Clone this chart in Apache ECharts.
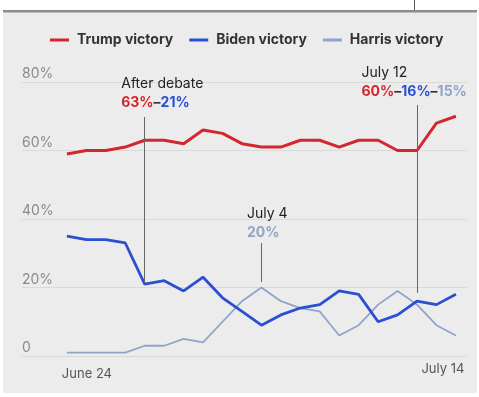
<!DOCTYPE html>
<html>
<head>
<meta charset="utf-8">
<script src="https://cdn.jsdelivr.net/npm/echarts@6/dist/echarts.min.js"></script>
<style>
  html, body { margin: 0; padding: 0; background: #fff; }
  #main { width: 479px; height: 397px; }
</style>
</head>
<body>
<div id="main"></div>
<script>
// days June 24 .. July 14
var days = ['June 24', 'June 25', 'June 26', 'June 27', 'June 28', 'June 29', 'June 30',
  'July 1', 'July 2', 'July 3', 'July 4', 'July 5', 'July 6', 'July 7', 'July 8',
  'July 9', 'July 10', 'July 11', 'July 12', 'July 13', 'July 14'];
var trump  = [59, 60, 60, 61, 63, 63, 62, 66, 65, 62, 61, 61, 63, 63, 61, 63, 63, 60, 60, 68, 70];
var biden  = [35, 34, 34, 33, 21, 22, 19, 23, 17, 13, 9, 12, 14, 15, 19, 18, 10, 12, 16, 15, 18];
var harris = [1, 1, 1, 1, 3, 3, 5, 4, 10, 16, 20, 16, 14, 13, 6, 9, 15, 19, 15, 9, 6];
var yTicks = [0, 20, 40, 60, 80];
var xTicks = [0, 20];

var RED = '#d3262f', BLUE = '#2b4fd3', LIGHT = '#8fa5c8';
var FONT = 'Inter';

function pairs(arr) {
  return arr.map(function (v, i) { return [i, v]; });
}

var chart = echarts.init(document.getElementById('main'));

var option = {
  backgroundColor: '#fff',
  animation: false,
  textStyle: { fontFamily: FONT },
  graphic: [
    { type: 'rect', z: -10, shape: { x: 3, y: 10, width: 474, height: 383 }, style: { fill: '#ececec' } },
    { type: 'rect', z: -9, shape: { x: 3, y: 10, width: 474, height: 2.5 }, style: { fill: '#8c8c8c' } },
    { type: 'line', z: -9, shape: { x1: 414.5, y1: 0, x2: 414.5, y2: 10 }, style: { stroke: '#555', lineWidth: 1 } }
  ],
  legend: {
    left: 50,
    top: 33,
    padding: 0,
    icon: 'rect',
    itemWidth: 19,
    itemHeight: 3,
    itemGap: 16,
    textStyle: { fontFamily: FONT, fontSize: 14, fontWeight: 'bold', color: '#333', padding: [0, 0, 0, 3] },
    data: ['Trump victory', 'Biden victory', 'Harris victory']
  },
  grid: { left: 22, right: 12, top: 82, bottom: 41 },
  xAxis: {
    type: 'value',
    min: -2.31,
    max: 20.57,
    axisLine: { show: false },
    axisTick: { show: false },
    splitLine: { show: false },
    axisLabel: {
      customValues: xTicks,
      margin: 7,
      fontFamily: FONT,
      fontSize: 13,
      color: '#555',
      formatter: function (v) {
        return v === 0 ? '{l|' + days[0] + '}' : '{r|' + days[days.length - 1] + '}';
      },
      rich: {
        l: { fontFamily: FONT, fontSize: 13, color: '#555', padding: [5, 0, 0, 40] },
        r: { fontFamily: FONT, fontSize: 13, color: '#555', padding: [0, 26, 0, 0] }
      }
    }
  },
  yAxis: {
    type: 'value',
    min: yTicks[0],
    max: yTicks[yTicks.length - 1],
    interval: 20,
    axisLine: { show: false },
    axisTick: { show: false },
    splitLine: { lineStyle: { color: '#d9d9d9', width: 1 } },
    axisLabel: {
      inside: true,
      margin: 0,
      verticalAlign: 'bottom',
      padding: [0, 0, 1, 0],
      fontFamily: FONT,
      fontSize: 14,
      color: '#8a8a8a',
      formatter: function (v) { return v === 0 ? '0' : v + '%'; }
    }
  },
  series: [
    {
      name: 'Trump victory',
      type: 'line',
      data: pairs(trump),
      symbol: 'none',
      color: RED,
      lineStyle: { width: 3, color: RED },
      z: 4,
      markLine: {
        silent: true, symbol: ['none', 'none'], label: { show: false },
        lineStyle: { color: '#666', width: 1, type: 'solid' },
        data: [
          [{ coord: [4, 69.8] }, { coord: [4, 21.3] }],
          [{ coord: [18, 73.3] }, { coord: [18, 18.4] }],
          [{ coord: [10, 33.0] }, { coord: [10, 21.6] }]
        ]
      },
      markPoint: {
        silent: true,
        symbol: 'circle',
        symbolSize: 1,
        itemStyle: { color: 'rgba(0,0,0,0)' },
        label: {
          show: true,
          fontFamily: FONT,
          fontSize: 14,
          lineHeight: 19,
          align: 'left',
          verticalAlign: 'top',
          rich: {
            t: { fontFamily: FONT, fontSize: 14, color: '#222', lineHeight: 19 },
            r: { fontFamily: FONT, fontSize: 14, fontWeight: 'bold', color: RED, lineHeight: 19 },
            b: { fontFamily: FONT, fontSize: 14, fontWeight: 'bold', color: BLUE, lineHeight: 19 },
            h: { fontFamily: FONT, fontSize: 14, fontWeight: 'bold', color: LIGHT, lineHeight: 19 },
            d: { fontFamily: FONT, fontSize: 14, fontWeight: 'bold', color: '#333', lineHeight: 19 }
          }
        },
        data: [
          {
            coord: [4, 69.8],
            label: {
              position: [-23, -42],
              formatter: '{t|After debate}\n{r|' + trump[4] + '%}{d|–}{b|' + biden[4] + '%}'
            }
          },
          {
            coord: [18, 73.3],
            label: {
              position: [-55, -41],
              formatter: '{t|July 12}\n{r|' + trump[18] + '%}{d|–}{b|' + biden[18] + '%}{d|–}{h|' + harris[18] + '%}'
            }
          },
          {
            coord: [10, 33.0],
            label: {
              position: [-14, -38],
              formatter: '{t|July 4}\n{h|' + harris[10] + '%}'
            }
          }
        ]
      }
    },
    {
      name: 'Biden victory',
      type: 'line',
      data: pairs(biden),
      symbol: 'none',
      color: BLUE,
      lineStyle: { width: 2.8, color: BLUE },
      z: 3
    },
    {
      name: 'Harris victory',
      type: 'line',
      data: pairs(harris),
      symbol: 'none',
      color: LIGHT,
      lineStyle: { width: 1.8, color: LIGHT },
      z: 2
    }
  ]
};

chart.setOption(option);
</script>
</body>
</html>
